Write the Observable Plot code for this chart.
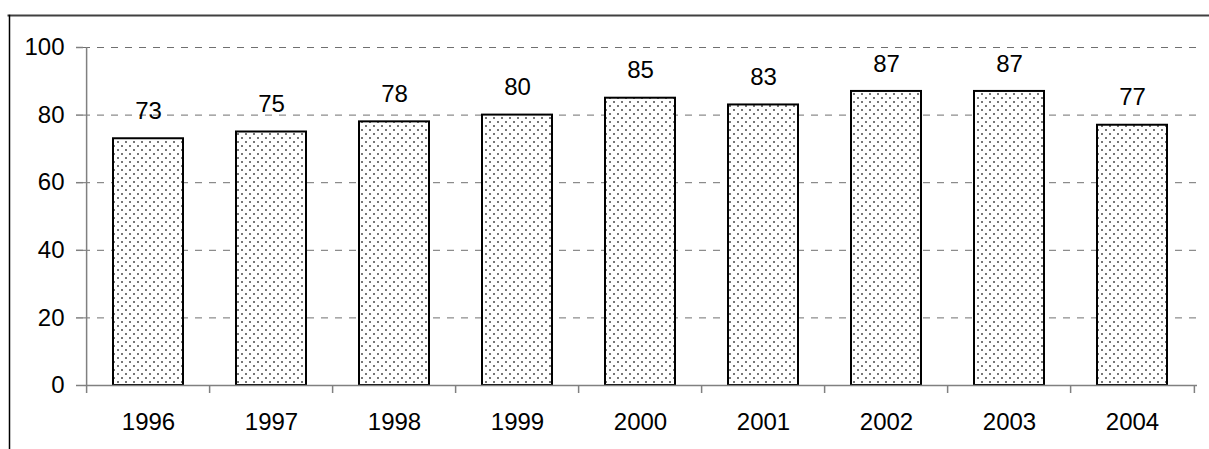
<!DOCTYPE html>
<html>
<head>
<meta charset="utf-8">
<script src="https://cdn.jsdelivr.net/npm/d3@7"></script>
<script src="https://cdn.jsdelivr.net/npm/@observablehq/plot@0.6"></script>
<style>
  html, body { margin: 0; padding: 0; background: white; }
</style>
</head>
<body>
<div id="chart"></div>
<script>
const years = ["1996", "1997", "1998", "1999", "2000", "2001", "2002", "2003", "2004"];
const values = [73, 75, 78, 80, 85, 83, 87, 87, 77];
const yTicks = [0, 20, 40, 60, 80, 100];
const gridTicks = [20, 40, 60, 80, 100];

const data = years.map((year, i) => ({year, value: values[i]}));

const W = 1209, H = 449;
const mL = 83, mR = 12, mT = 47, mB = 64;
const step = (W - mL - mR) / years.length;
const plotH = H - mT - mB;
const gray = "#808080";
const fs = 24;

const svg = Plot.plot({
  width: W,
  height: H,
  marginLeft: mL,
  marginRight: mR,
  marginTop: mT,
  marginBottom: mB,
  style: {fontFamily: "'Liberation Sans', Arial, sans-serif", fontSize: fs + "px", background: "white", color: "black", overflow: "visible"},
  x: {domain: years, paddingInner: 0.434, paddingOuter: 0.217, axis: null},
  y: {domain: [0, 100], axis: null},
  marks: [
    Plot.ruleY(gridTicks, {stroke: "#707070", strokeWidth: 1, strokeDasharray: "7,7"}),
    Plot.barY(data, {x: "year", y: "value", fill: "url(#dots)", stroke: "black", strokeWidth: 2}),
    Plot.ruleY([0], {stroke: gray, strokeWidth: 1.5}),
    Plot.ruleX(data.slice(0, 1), {x: "year", dx: -step / 2, insetBottom: -8, stroke: gray, strokeWidth: 1.5}),
    Plot.ruleX(data.slice(1), {x: "year", dx: -step / 2, insetTop: plotH, insetBottom: -8, stroke: gray, strokeWidth: 1.5}),
    Plot.ruleX(data.slice(-1), {x: "year", dx: step / 2, insetTop: plotH, insetBottom: -8, stroke: gray, strokeWidth: 1.5}),
    Plot.axisY({ticks: yTicks, tickSize: 7, tickPadding: 12, stroke: gray, fill: "black", fontSize: fs, strokeWidth: 1.5, label: null}),
    Plot.axisX({tickSize: 0, tickPadding: 27, fill: "black", fontSize: fs, label: null}),
    Plot.text(data, {x: "year", y: "value", text: d => String(d.value), dy: -27.5, fontSize: fs, fill: "black"}),
    Plot.frame({anchor: "top", insetTop: -(mT - 15), insetLeft: -(mL - 8), insetRight: -mR, stroke: "#404040", strokeWidth: 2}),
    Plot.frame({anchor: "left", insetTop: -(mT - 15), insetLeft: -(mL - 9), insetBottom: -mB, stroke: "black", strokeWidth: 1.5})
  ]
});

const defs = d3.select(svg).insert("defs", ":first-child");
const pat = defs.append("pattern")
  .attr("id", "dots")
  .attr("patternUnits", "userSpaceOnUse")
  .attr("width", 8)
  .attr("height", 8);
pat.append("rect").attr("width", 8).attr("height", 8).attr("fill", "white");
pat.append("rect").attr("x", 1).attr("y", 1).attr("width", 2).attr("height", 2).attr("fill", "#777");
pat.append("rect").attr("x", 5).attr("y", 5).attr("width", 2).attr("height", 2).attr("fill", "#777");

document.getElementById("chart").appendChild(svg);
</script>
</body>
</html>
